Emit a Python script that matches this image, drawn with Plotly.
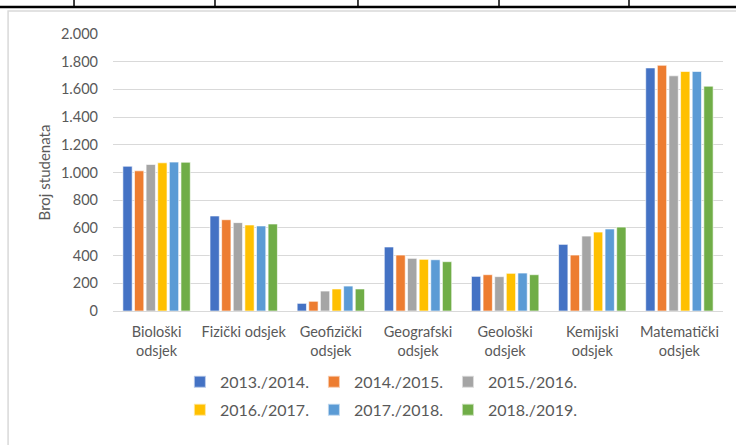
import plotly.graph_objects as go

categories = ["Biološki<br>odsjek", "Fizički odsjek", "Geofizički<br>odsjek", "Geografski<br>odsjek",
              "Geološki<br>odsjek", "Kemijski<br>odsjek", "Matematički<br>odsjek"]
years = ["2013./2014.", "2014./2015.", "2015./2016.", "2016./2017.", "2017./2018.", "2018./2019."]
y2013 = [1045, 686, 55, 462, 250, 481, 1755]
y2014 = [1012, 659, 70, 404, 262, 404, 1774]
y2015 = [1058, 638, 144, 380, 248, 541, 1698]
y2016 = [1070, 621, 159, 373, 272, 570, 1729]
y2017 = [1075, 614, 180, 370, 274, 592, 1729]
y2018 = [1074, 628, 159, 356, 262, 606, 1623]
series = [y2013, y2014, y2015, y2016, y2017, y2018]
colors = ["#4472C4", "#ED7D31", "#A5A5A5", "#FFC000", "#5B9BD5", "#70AD47"]

FONT = "Lato"
GRAY = "#595959"

fig = go.Figure()
for i, (name, vals, c) in enumerate(zip(years, series, colors)):
    fig.add_trace(go.Bar(
        x=categories, y=vals, name=name,
        marker=dict(color=c, line=dict(color="rgba(255,255,255,0.6)", width=1)),
        legend="legend" if i < 3 else "legend2",
    ))

shapes = []
# chart frame
shapes.append(dict(type="rect", xref="paper", yref="paper", x0=-0.172, x1=1.2, y0=-0.8, y1=1.083,
                   line=dict(color="#d9d9d9", width=1.5), fillcolor="rgba(0,0,0,0)", layer="below"))
# cut-off table above
shapes.append(dict(type="line", xref="paper", yref="paper", x0=-0.3, x1=1.2, y0=1.0975, y1=1.0975,
                   line=dict(color="black", width=2.5)))
for xp in [-0.0639, 0.1672, 0.4016, 0.6328, 0.8459]:
    shapes.append(dict(type="line", xref="paper", yref="paper", x0=xp, x1=xp, y0=1.0975, y1=1.13,
                       line=dict(color="black", width=1.5)))

leg_common = dict(orientation="h", x=0.44, xanchor="center", yanchor="middle",
                  font=dict(size=16, color=GRAY), itemsizing="constant", traceorder="normal",
                  itemwidth=30, tracegroupgap=0)

fig.update_layout(
    width=736, height=445,
    margin=dict(l=113, r=13, t=34, b=134, autoexpand=False),
    paper_bgcolor="white", plot_bgcolor="white",
    separators=",.",
    barmode="group", bargap=0.2, bargroupgap=0.2,
    font=dict(family=FONT, color=GRAY, size=14.5),
    shapes=shapes,
    xaxis=dict(showgrid=False, showline=True, linecolor="#d9d9d9", linewidth=1,
               tickfont=dict(size=14.5, color=GRAY), ticks="", automargin=False,
               ticklabelstandoff=8),
    yaxis=dict(range=[0, 2000], dtick=200, tickformat=",", showgrid=True, gridcolor="#d9d9d9",
               gridwidth=1, zeroline=False, showline=False, ticks="", automargin=False,
               tickfont=dict(size=14.5, color=GRAY), ticklabelstandoff=14,
               title=dict(text="Broj studenata", font=dict(size=15, color=GRAY), standoff=6)),
    legend=dict(y=-0.256, **leg_common),
    legend2=dict(y=-0.357, **leg_common),
)

fig.write_html("out.html", config={"displayModeBar": False},
               post_script="document.body.style.margin='0';")
